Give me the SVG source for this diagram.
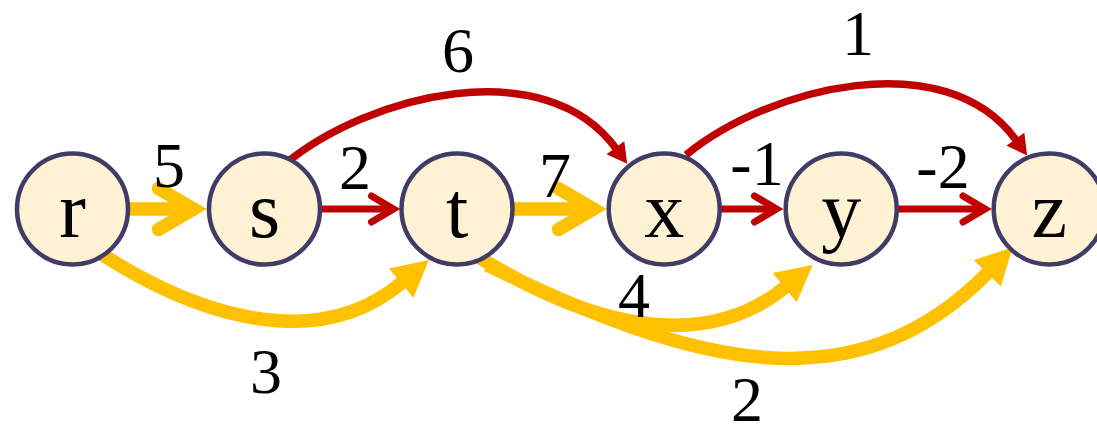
<svg xmlns="http://www.w3.org/2000/svg" width="1097" height="425" viewBox="0 0 1097 425">
<style>
  .node circle { fill: #FFF1D4; stroke: #3F3D66; stroke-width: 4.5; }
  .node text { font-family: "Liberation Serif", "Times New Roman", serif; font-size: 80px; fill: #000; text-anchor: middle; }
  .lbl { font-family: "Liberation Serif", "Times New Roman", serif; font-size: 64px; fill: #000; text-anchor: middle; }
  .ey { fill: none; stroke: #FFC000; stroke-width: 13.5; stroke-linecap: butt; }
  .er { fill: none; stroke: #C00000; stroke-width: 7; stroke-linecap: butt; }
  .erc { fill: none; stroke: #C00000; stroke-width: 7.5; stroke-linecap: butt; }
</style>
<defs>
  <marker id="chevY" markerUnits="userSpaceOnUse" orient="auto" viewBox="-50 -32 70 64" markerWidth="70" markerHeight="64" refX="0" refY="0">
    <path d="M -35 -20.5 L 0 0 L -35 20.5" fill="none" stroke="#FFC000" stroke-width="13.5" stroke-linecap="round" stroke-linejoin="miter"/>
  </marker>
  <marker id="chevR" markerUnits="userSpaceOnUse" orient="auto" viewBox="-30 -20 45 40" markerWidth="45" markerHeight="40" refX="0" refY="0">
    <path d="M -22 -13 L 0 0 L -22 13" fill="none" stroke="#C00000" stroke-width="7" stroke-linecap="round" stroke-linejoin="miter"/>
  </marker>
  <marker id="triY" markerUnits="userSpaceOnUse" orient="auto" viewBox="-5 -25 50 50" markerWidth="50" markerHeight="50" refX="1" refY="0">
    <polygon points="0,-19 36,0 0,19" fill="#FFC000"/>
  </marker>
  <marker id="triR" markerUnits="userSpaceOnUse" orient="auto" viewBox="-5 -15 30 30" markerWidth="30" markerHeight="30" refX="1" refY="0">
    <polygon points="0,-11 20,0 0,11" fill="#C00000"/>
  </marker>
</defs>

<g id="connectors">
  <path id="e-r-s" class="ey" d="M 126 209 L 193.5 209" marker-end="url(#chevY)"/>
  <path id="e-t-x" class="ey" d="M 510 209 L 593.5 209" marker-end="url(#chevY)"/>
  <path id="e-s-t" class="er" d="M 318 209 L 393.5 209" marker-end="url(#chevR)"/>
  <path id="e-x-y" class="er" d="M 718 209 L 776.5 209" marker-end="url(#chevR)"/>
  <path id="e-y-z" class="er" d="M 895 209 L 985 209" marker-end="url(#chevR)"/>
  <path id="e-s-x" class="erc" d="M 285 164 C 368 95, 545 51, 616 148.5" marker-end="url(#triR)"/>
  <path id="e-x-z" class="erc" d="M 686 155 C 769 87, 946 43, 1016 140" marker-end="url(#triR)"/>
  <path id="e-r-t" class="ey" d="M 96 250.5 C 182 307, 310 359.7, 402 282.5" marker-end="url(#triY)"/>
  <path id="e-t-z" class="ey" d="M 487 265 C 694 366, 855 408, 988 272.5" marker-end="url(#triY)"/>
  <path id="e-t-y" class="ey" d="M 475 254.7 C 575 317.6, 696.3 359.6, 785.5 287" marker-end="url(#triY)"/>
</g>

<g id="labels">
  <text class="lbl" x="169" y="187">5</text>
  <text class="lbl" x="355" y="189">2</text>
  <text class="lbl" x="555" y="197">7</text>
  <text class="lbl" x="757" y="185">-1</text>
  <text class="lbl" x="943" y="188">-2</text>
  <text class="lbl" x="458" y="72">6</text>
  <text class="lbl" x="858" y="55">1</text>
  <text class="lbl" x="266" y="393">3</text>
  <text class="lbl" x="634" y="317">4</text>
  <text class="lbl" x="747" y="421">2</text>
</g>

<g id="node-r" class="node"><circle cx="72.5" cy="209" r="55.5"/><text x="72.5" y="237">r</text></g>
<g id="node-s" class="node"><circle cx="264.5" cy="209" r="55.5"/><text x="264.5" y="237">s</text></g>
<g id="node-t" class="node"><circle cx="457" cy="209" r="55.5"/><text x="457" y="237">t</text></g>
<g id="node-x" class="node"><circle cx="664.2" cy="209" r="55.5"/><text x="664.2" y="237">x</text></g>
<g id="node-y" class="node"><circle cx="841.2" cy="209" r="55.5"/><text x="841.2" y="237">y</text></g>
<g id="node-z" class="node"><circle cx="1049.2" cy="209" r="55.5"/><text x="1049.2" y="237">z</text></g>
</svg>
